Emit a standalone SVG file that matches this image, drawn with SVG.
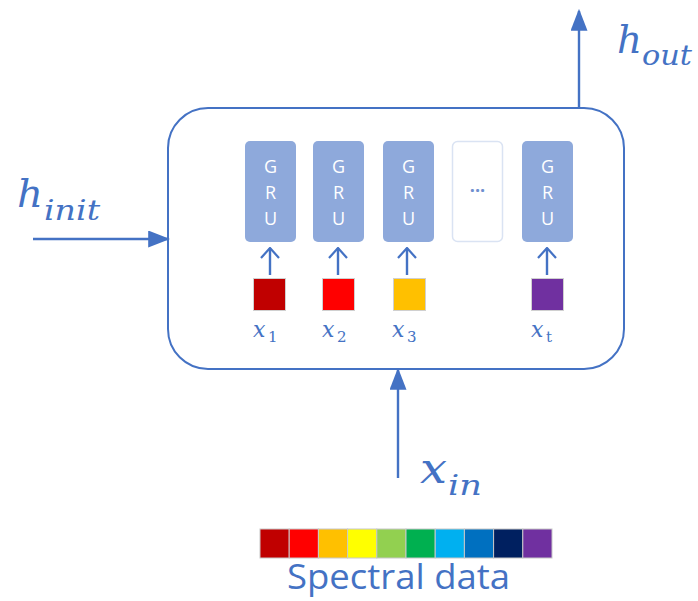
<svg xmlns="http://www.w3.org/2000/svg" width="698" height="601" viewBox="0 0 698 601">
<defs>
<marker id="tri2" viewBox="0 0 10 10" refX="9" refY="5" markerWidth="22" markerHeight="17" markerUnits="userSpaceOnUse" orient="auto" preserveAspectRatio="none">
<path d="M0,0 L10,5 L0,10 z" fill="#4472C4"/>
</marker>
<marker id="open" viewBox="0 0 12 20" refX="11" refY="10" markerWidth="12" markerHeight="20" markerUnits="userSpaceOnUse" orient="auto">
<path d="M1,1 L11,10 L1,19" fill="none" stroke="#4472C4" stroke-width="2.2"/>
</marker>
</defs>
<style>
.conn{stroke:#4472C4;stroke-width:2.4;fill:none}
.gru{fill:#8EA9DB}
.gt{font-family:"Open Sans","Liberation Sans",sans-serif;font-size:18px;fill:#ffffff;text-anchor:middle}
.math{font-family:"DejaVu Serif","Liberation Serif",serif;font-style:italic;fill:#4472C4}
.sub{font-family:"DejaVu Serif","Liberation Serif",serif;fill:#4472C4}
.sq{stroke:#D0D0D0;stroke-width:1}
.sp{stroke:#C8C8C8;stroke-width:1}
</style>
<rect width="698" height="601" fill="#ffffff"/>
<g id="container">
<rect x="168" y="108" width="456" height="261" rx="40" ry="40" fill="none" stroke="#4472C4" stroke-width="2"/>
</g>
<g id="gru1"><rect class="gru" x="245" y="141" width="51" height="101" rx="5"/><text class="gt" x="270.5" y="173">G</text><text class="gt" x="270.5" y="199">R</text><text class="gt" x="270.5" y="225">U</text></g>
<g id="gru2"><rect class="gru" x="313" y="141" width="51" height="101" rx="5"/><text class="gt" x="338.5" y="173">G</text><text class="gt" x="338.5" y="199">R</text><text class="gt" x="338.5" y="225">U</text></g>
<g id="gru3"><rect class="gru" x="383" y="141" width="51" height="101" rx="5"/><text class="gt" x="408.5" y="173">G</text><text class="gt" x="408.5" y="199">R</text><text class="gt" x="408.5" y="225">U</text></g>
<g id="gru_dots"><rect x="452.5" y="141.5" width="50" height="100" rx="5" fill="#ffffff" stroke="#DAE3F3" stroke-width="1.5"/><text x="477.5" y="197" font-family="Open Sans, Liberation Sans, sans-serif" font-size="18" fill="#6F8FCF" text-anchor="middle" font-weight="bold">···</text></g>
<g id="grut"><rect class="gru" x="522" y="141" width="51" height="101" rx="5"/><text class="gt" x="547.5" y="173">G</text><text class="gt" x="547.5" y="199">R</text><text class="gt" x="547.5" y="225">U</text></g>
<g id="x1"><rect class="sq" x="253.5" y="278.5" width="32" height="32" fill="#C00000"/><text class="math" x="253" y="337" font-size="22">x</text><text class="sub" x="268" y="342" font-size="15">1</text></g>
<g id="x2"><rect class="sq" x="322.5" y="278.5" width="32" height="32" fill="#FF0000"/><text class="math" x="322" y="337" font-size="22">x</text><text class="sub" x="337" y="342" font-size="15">2</text></g>
<g id="x3"><rect class="sq" x="393.5" y="278.5" width="32" height="32" fill="#FFC000"/><text class="math" x="392" y="337" font-size="22">x</text><text class="sub" x="407" y="342" font-size="15">3</text></g>
<g id="xt"><rect class="sq" x="531.5" y="278.5" width="32" height="32" fill="#7030A0"/><text class="math" x="531" y="337" font-size="22">x</text><text class="sub" x="546" y="342" font-size="15">t</text></g>
<g id="connectors">
<line class="conn" x1="270" y1="275" x2="270" y2="248" marker-end="url(#open)"/>
<line class="conn" x1="338" y1="275" x2="338" y2="248" marker-end="url(#open)"/>
<line class="conn" x1="407" y1="275" x2="407" y2="248" marker-end="url(#open)"/>
<line class="conn" x1="547" y1="275" x2="547" y2="248" marker-end="url(#open)"/>
<line class="conn" x1="579" y1="108" x2="579" y2="11" marker-end="url(#tri2)"/>
<line class="conn" x1="33" y1="239" x2="168" y2="239" marker-end="url(#tri2)"/>
<line class="conn" x1="398" y1="478" x2="398" y2="370" marker-end="url(#tri2)"/>
</g>
<g id="h_out"><text class="math" x="617" y="53" font-size="40" textLength="25" lengthAdjust="spacingAndGlyphs">h</text><text class="math" x="642" y="65" font-size="28" textLength="50" lengthAdjust="spacingAndGlyphs">out</text></g>
<g id="h_init"><text class="math" x="17" y="207" font-size="40" textLength="26" lengthAdjust="spacingAndGlyphs">h</text><text class="math" x="44" y="220" font-size="28" textLength="56" lengthAdjust="spacingAndGlyphs">init</text></g>
<g id="x_in"><text class="math" x="420" y="483" font-size="42" textLength="27" lengthAdjust="spacingAndGlyphs">x</text><text class="math" x="448" y="495" font-size="28" textLength="34" lengthAdjust="spacingAndGlyphs">in</text></g>
<g id="spectral">
<rect class="sp" x="260" y="529" width="29.2" height="29" fill="#C00000"/>
<rect class="sp" x="289.2" y="529" width="29.2" height="29" fill="#FF0000"/>
<rect class="sp" x="318.4" y="529" width="29.2" height="29" fill="#FFC000"/>
<rect class="sp" x="347.6" y="529" width="29.2" height="29" fill="#FFFF00"/>
<rect class="sp" x="376.8" y="529" width="29.2" height="29" fill="#92D050"/>
<rect class="sp" x="406" y="529" width="29.2" height="29" fill="#00B050"/>
<rect class="sp" x="435.2" y="529" width="29.2" height="29" fill="#00B0F0"/>
<rect class="sp" x="464.4" y="529" width="29.2" height="29" fill="#0070C0"/>
<rect class="sp" x="493.6" y="529" width="29.2" height="29" fill="#002060"/>
<rect class="sp" x="522.8" y="529" width="29.2" height="29" fill="#7030A0"/>
<text x="287" y="589" font-family="Open Sans, Liberation Sans, sans-serif" font-size="34" fill="#4472C4" textLength="223" lengthAdjust="spacingAndGlyphs">Spectral data</text>
</g>
</svg>
